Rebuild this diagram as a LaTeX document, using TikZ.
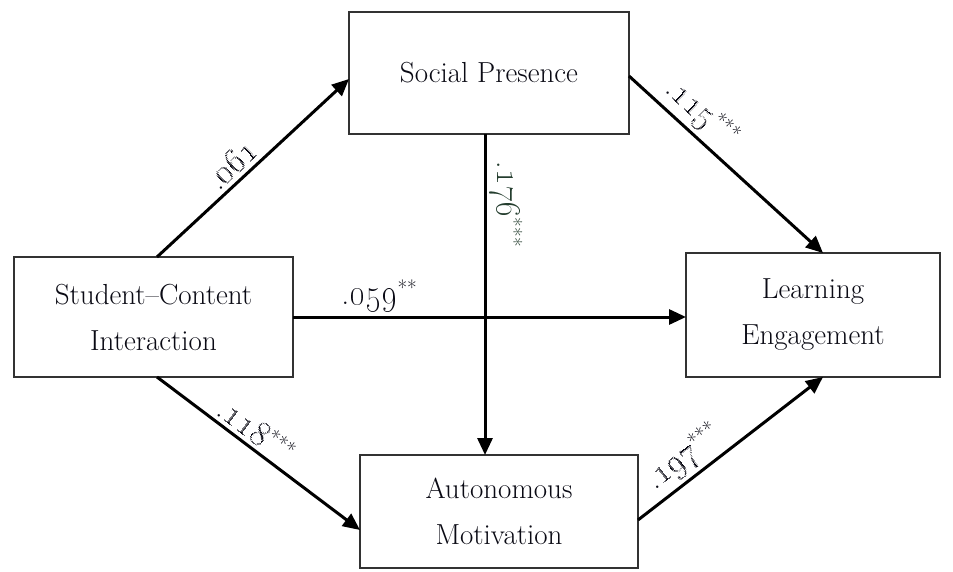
\documentclass[tikz,border=0pt]{standalone}
\usetikzlibrary{arrows.meta}
\definecolor{boxline}{RGB}{50,50,50}
\definecolor{txt}{RGB}{10,10,20}
\definecolor{greenish}{RGB}{35,60,45}
\newcommand{\osnum}[1]{\scalebox{1.2}{\oldstylenums{#1}}}
\newcommand{\stars}[1]{\textsuperscript{#1}}
\begin{document}
\begin{tikzpicture}[x=1pt,y=-1pt,
  box/.style={draw=boxline, line width=1.3pt, fill=white, inner sep=0pt, text=txt,
    font=\fontsize{29}{46}\selectfont, align=center},
  conn/.style={line width=3pt, line cap=butt, -{Triangle[length=17pt,width=15pt]}},
  lbl/.style={font=\fontsize{30}{32}\selectfont, text=txt, inner sep=4pt}
]
\useasboundingbox (0,0) rectangle (953,572);
\node[box, minimum width=279pt, minimum height=120pt] (sc) at (153.5,317) {Student--Content\\Interaction};
\node[box, minimum width=280pt, minimum height=122pt] (sp) at (489,73) {Social Presence};
\node[box, minimum width=254pt, minimum height=124pt] (le) at (813,315) {Learning\\Engagement};
\node[box, minimum width=278pt, minimum height=113pt] (am) at (499,511.5) {Autonomous\\Motivation};

\coordinate (scTop) at (157,257);
\coordinate (scBot) at (157,377);
\coordinate (spL) at (349,79);
\coordinate (spR) at (629,76);
\coordinate (spB) at (485,134);
\coordinate (amT) at (485,455);
\coordinate (amL) at (360,530);
\coordinate (amR) at (638,520);
\coordinate (leT) at (823,253);
\coordinate (leB) at (823,377);
\coordinate (scR) at (293,317);
\coordinate (leL) at (686,317);

\draw[conn] (scTop) -- node[lbl, sloped, above, pos=0.45] {.\osnum{061}} (spL);
\draw[conn] (scR) -- node[lbl, above, pos=0.22] {.\osnum{059}\stars{**}} (leL);
\draw[conn] (scBot) -- node[lbl, sloped, above, pos=0.44] {.\osnum{118}\stars{***}} (amL);
\draw[conn] (spR) -- node[lbl, sloped, above, pos=0.3] {.\osnum{115}\stars{***}} (leT);
\draw[conn] (spB) -- node[lbl, sloped, above, pos=0.22, text=greenish] {.\osnum{176}\stars{***}} (amT);
\draw[conn] (amR) -- node[lbl, sloped, above, pos=0.32] {.\osnum{197}\stars{***}} (leB);
\end{tikzpicture}
\end{document}
